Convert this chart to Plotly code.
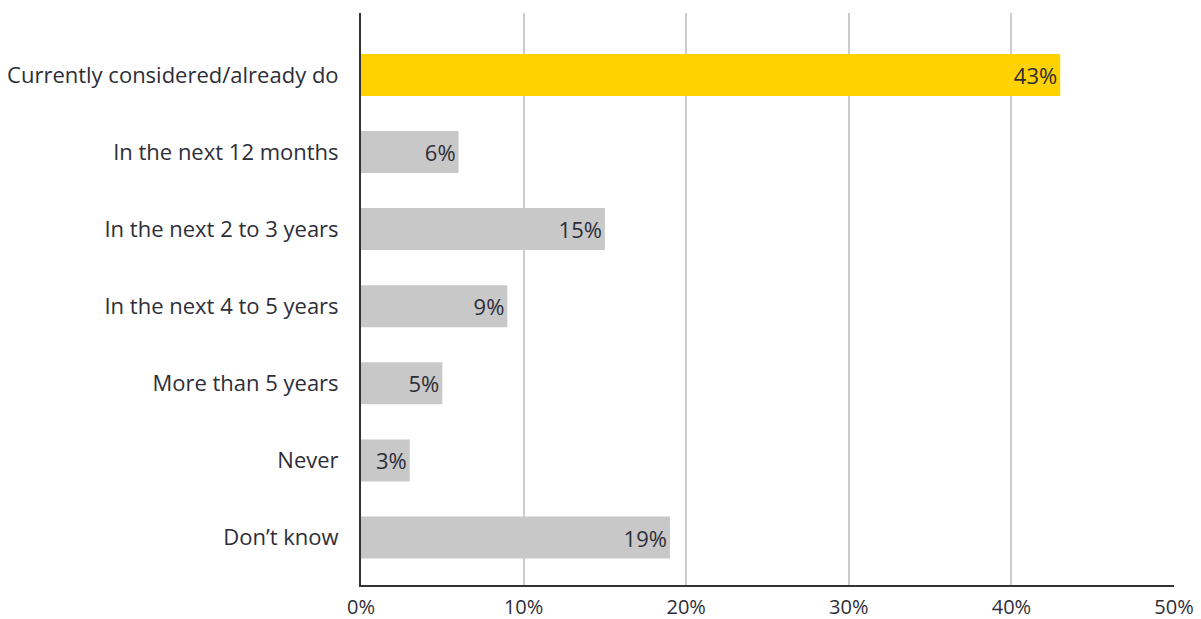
import plotly.graph_objects as go

categories = ["Currently considered/already do", "In the next 12 months", "In the next 2 to 3 years",
              "In the next 4 to 5 years", "More than 5 years", "Never", "Don\u2019t know"]
values = [43, 6, 15, 9, 5, 3, 19]
labels = ["43%", "6%", "15%", "9%", "5%", "3%", "19%"]
colors = ["#FFD200", "#C8C8C9", "#C8C8C9", "#C8C8C9", "#C8C8C9", "#C8C8C9", "#C8C8C9"]
x_ticks = [0, 10, 20, 30, 40, 50]
x_tick_labels = ["0%", "10%", "20%", "30%", "40%", "50%"]

FONT = "Open Sans"
TXT = "#2E2E38"

fig = go.Figure(go.Bar(
    x=values, y=categories, orientation="h",
    marker=dict(color=colors, line=dict(width=0)),
    width=0.545,
    text=labels, textposition="inside", insidetextanchor="end", textangle=0,
    textfont=dict(family=FONT, size=22, color=TXT),
    hoverinfo="skip",
))

fig.update_layout(
    width=1193, height=611,
    margin=dict(l=353, r=27, t=5, b=33.5, autoexpand=False),
    paper_bgcolor="white", plot_bgcolor="white",
    showlegend=False,
    xaxis=dict(range=[0, 50], tickvals=x_ticks, ticktext=x_tick_labels,
               showgrid=True, gridcolor="#CCCCCC", gridwidth=2,
               showline=True, linecolor="#333333", linewidth=2,
               zeroline=False, ticks="", ticklabelstandoff=3, automargin=False,
               tickfont=dict(family=FONT, size=20, color=TXT), fixedrange=True),
    yaxis=dict(type="category", categoryorder="array", categoryarray=categories,
               range=[6.616, -0.803], showgrid=False, automargin=False,
               showline=True, linecolor="#333333", linewidth=2,
               ticks="", ticklabelstandoff=16,
               tickfont=dict(family=FONT, size=22, color=TXT), fixedrange=True),
)

fig.write_html("out.html")
